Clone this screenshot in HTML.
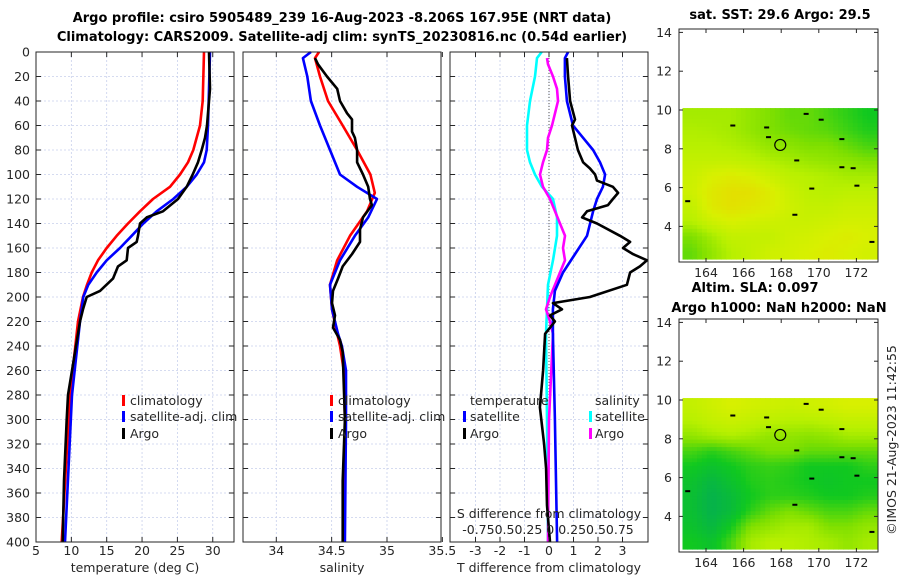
<!DOCTYPE html>
<html><head><meta charset="utf-8"><style>
body{margin:0;background:#fff;}
svg{display:block;font-family:"DejaVu Sans","Liberation Sans",sans-serif;}
.t{font-size:12.5px;fill:#262626;}
.ti{font-size:13px;font-weight:bold;fill:#000;}
</style></head><body>
<svg id="fig" width="900" height="580" viewBox="0 0 900 580">
<g id="grid"></g>
<g id="lines"></g>
<g id="maps"></g>
<g id="axes"></g>
<text class="ti" x="342" y="22" text-anchor="middle">Argo profile: csiro 5905489_239 16-Aug-2023 -8.206S 167.95E (NRT data)</text>
<text class="ti" x="342" y="41" text-anchor="middle">Climatology: CARS2009. Satellite-adj clim: synTS_20230816.nc (0.54d earlier)</text>
<text class="t" x="135" y="572" text-anchor="middle">temperature (deg C)</text>
<text class="t" x="342" y="572" text-anchor="middle">salinity</text>
<text class="t" x="549" y="572" text-anchor="middle">T difference from climatology</text>
<text class="t" x="549" y="518" text-anchor="middle">S difference from climatology</text>
<text class="t" x="548" y="534" text-anchor="middle">-0.750.50.25 0 0.250.50.75</text>
<g>
<rect x="122" y="395" width="3" height="11" fill="#f00"/><text class="t" x="130" y="405">climatology</text>
<rect x="122" y="411" width="3" height="11" fill="#00f"/><text class="t" x="130" y="421">satellite-adj. clim</text>
<rect x="122" y="428" width="3" height="11" fill="#000"/><text class="t" x="130" y="438">Argo</text>
</g>
<g>
<rect x="330" y="395" width="3" height="11" fill="#f00"/><text class="t" x="338" y="405">climatology</text>
<rect x="330" y="411" width="3" height="11" fill="#00f"/><text class="t" x="338" y="421">satellite-adj. clim</text>
<rect x="330" y="428" width="3" height="11" fill="#000"/><text class="t" x="338" y="438">Argo</text>
</g>
<g>
<text class="t" x="470" y="405">temperature</text>
<rect x="463" y="411" width="3" height="11" fill="#00f"/><text class="t" x="470" y="421">satellite</text>
<rect x="463" y="428" width="3" height="11" fill="#000"/><text class="t" x="470" y="438">Argo</text>
<text class="t" x="595" y="405">salinity</text>
<rect x="589" y="411" width="3" height="11" fill="#0ff"/><text class="t" x="595" y="421">satellite</text>
<rect x="589" y="428" width="3" height="11" fill="#f0f"/><text class="t" x="595" y="438">Argo</text>
</g>
<text class="ti" x="780" y="19" text-anchor="middle">sat. SST: 29.6 Argo: 29.5</text>
<text class="ti" x="755" y="292" text-anchor="middle">Altim. SLA: 0.097</text>
<text class="ti" x="779" y="312" text-anchor="middle">Argo h1000: NaN h2000: NaN</text>
<text class="t" transform="translate(896,440) rotate(-90)" text-anchor="middle">©IMOS 21-Aug-2023 11:42:55</text>
</svg>
<script>
// ---- Panel 1: temperature ----
const tClimDepth=[0,40,60,80,90,100,110,120,130,140,150,160,170,180,190,200,220,280,400];
const tClim=[28.76,28.58,28.2,27.25,26.5,25.37,23.95,21.55,19.71,18.01,16.41,15.0,13.77,12.88,12.21,11.65,10.94,9.81,8.64];
const tSatDepth=[0,60,80,90,100,110,120,130,140,150,160,170,180,190,200,220,280,400];
const tSat=[29.61,29.33,29.14,28.76,27.73,26.32,24.42,22.07,20.18,18.54,16.88,15.0,13.59,12.4,11.69,11.22,10.09,9.1];
const tArgoDepth=[0,30,60,70,80,90,100,110,120,130,135,140,150,155,160,170,175,185,195,200,210,220,280,300,350,400];
const tArgo=[29.47,29.61,29.19,28.9,28.44,27.91,27.16,26.32,25.08,22.96,20.66,19.71,19.43,19.24,18.01,17.83,16.6,15.89,14.05,12.17,11.65,11.22,9.53,9.34,8.96,8.78];
// ---- Panel 2: salinity ----
const sClimDepth=[0,5,20,40,60,80,100,115,130,150,170,190,210,230,240,260,300,400];
const sClim=[34.386,34.35,34.395,34.467,34.6,34.73,34.85,34.89,34.82,34.666,34.55,34.485,34.503,34.55,34.575,34.61,34.62,34.61];
const sSatDepth=[0,5,20,40,60,80,100,110,120,135,150,170,190,210,230,240,260,300,400];
const sSat=[34.313,34.24,34.28,34.313,34.395,34.485,34.575,34.73,34.91,34.83,34.71,34.575,34.485,34.503,34.557,34.593,34.63,34.63,34.62];
const sArgoDepth=[5,10,20,30,40,50,55,65,70,80,90,100,110,120,125,135,145,155,165,175,185,195,205,215,225,235,245,300,350,400];
const sArgo=[34.35,34.377,34.458,34.55,34.575,34.64,34.684,34.684,34.71,34.73,34.73,34.783,34.83,34.846,34.864,34.783,34.756,34.756,34.684,34.6,34.557,34.512,34.503,34.53,34.512,34.575,34.6,34.62,34.6,34.6];
// ---- Panel 3: differences ----
const dTSatDepth=[0,5,20,40,60,70,80,90,100,110,120,130,150,165,180,195,210,230,300,400];
const dTSat=[0.78,0.65,0.65,0.73,0.98,1.39,1.8,2.08,2.29,2.2,1.96,1.8,1.55,1.06,0.57,0.24,0.16,0.16,0.24,0.33];
const dTArgoDepth=[5,20,40,55,60,70,80,90,95,100,105,110,115,120,125,130,135,140,150,155,160,165,170,175,180,190,200,205,210,215,220,230,260,290,320,340,370,400];
const dTArgo=[0.73,0.78,0.86,1.06,0.94,1.06,1.18,1.39,1.67,1.88,1.96,2.61,2.82,2.61,2.41,1.55,1.35,1.96,2.9,3.31,3.02,3.43,4.0,3.71,3.31,3.18,1.67,0.16,0.53,0.04,0.24,-0.16,-0.24,-0.37,-0.2,-0.12,-0.08,0.04];
const dSSatDepth=[0,5,20,40,60,80,90,100,110,120,135,150,170,190,210,230,300,400];
const dSSat=[-0.076,-0.125,-0.146,-0.198,-0.229,-0.229,-0.198,-0.146,-0.073,0.042,0.083,0.083,0.042,-0.01,-0.021,-0.031,-0.021,-0.01];
const dSArgoDepth=[5,10,20,30,40,50,60,70,80,90,100,110,120,130,140,150,160,170,180,190,200,210,220,230,300,400];
const dSArgo=[-0.021,-0.01,0.042,0.083,0.094,0.063,0.031,-0.01,-0.021,-0.063,-0.094,-0.063,0.01,0.063,0.115,0.167,0.146,0.167,0.115,0.063,0.01,-0.031,0.01,0.042,0,-0.01];
// ---- Maps (rows from north ~10N to south ~2.3N, cols 162.7E..173.1E) ----
const sstGrid=[
[0.55,0.55,0.55,0.5,0.45,0.4,0.4,0.35,0.3,0.25],
[0.58,0.57,0.55,0.5,0.45,0.42,0.4,0.38,0.33,0.28],
[0.6,0.6,0.58,0.55,0.5,0.48,0.45,0.45,0.4,0.35],
[0.65,0.65,0.65,0.62,0.58,0.55,0.52,0.5,0.48,0.45],
[0.68,0.75,0.78,0.75,0.68,0.62,0.6,0.58,0.55,0.55],
[0.7,0.8,0.85,0.85,0.78,0.68,0.62,0.6,0.62,0.62],
[0.65,0.8,0.85,0.82,0.78,0.7,0.65,0.65,0.68,0.68],
[0.6,0.7,0.75,0.72,0.7,0.68,0.68,0.7,0.72,0.72],
[0.45,0.55,0.65,0.65,0.65,0.7,0.72,0.75,0.78,0.75],
[0.4,0.5,0.6,0.65,0.7,0.72,0.75,0.78,0.75,0.72]];
const slaGrid=[
[0.65,0.7,0.75,0.72,0.7,0.68,0.7,0.72,0.75,0.75],
[0.6,0.65,0.68,0.65,0.62,0.6,0.6,0.62,0.65,0.65],
[0.5,0.55,0.58,0.55,0.5,0.5,0.48,0.5,0.55,0.55],
[0.35,0.3,0.35,0.4,0.45,0.45,0.4,0.4,0.4,0.4],
[0.25,0.2,0.25,0.3,0.32,0.3,0.25,0.25,0.25,0.3],
[0.2,0.12,0.2,0.28,0.3,0.28,0.25,0.22,0.25,0.25],
[0.18,0.08,0.15,0.25,0.3,0.3,0.28,0.25,0.25,0.28],
[0.18,0.08,0.15,0.3,0.4,0.45,0.4,0.35,0.35,0.4],
[0.2,0.12,0.25,0.45,0.5,0.55,0.55,0.45,0.45,0.5],
[0.25,0.2,0.35,0.55,0.6,0.6,0.58,0.55,0.5,0.55]];
const depthTicks=[0,20,40,60,80,100,120,140,160,180,200,220,240,260,280,300,320,340,360,380,400];
const tTicks=[5,10,15,20,25,30];
const sTicks=[34,34.5,35,35.5];
const dTicks=[-3,-2,-1,0,1,2,3];
const latTicks=[14,12,10,8,6,4];
const lonTicks=[164,166,168,170,172];
const argoLon=167.95, argoLat=8.2;

const NS='http://www.w3.org/2000/svg';
function mk(tag,attrs,parent){const e=document.createElementNS(NS,tag);for(const k in attrs)e.setAttribute(k,attrs[k]);parent.appendChild(e);return e;}
const G=document.getElementById('grid'),L=document.getElementById('lines'),A=document.getElementById('axes'),M=document.getElementById('maps');
const top0=52,bot0=542;
const yD=d=>top0+d*(bot0-top0)/400;
const panels=[
 {x0:36,x1:234,xs:v=>36+(v-5)*7.07,ticks:tTicks,name:'temperature-panel'},
 {x0:243,x1:441,xs:v=>276.3+(v-34)*110.7,ticks:sTicks,name:'salinity-panel'},
 {x0:450,x1:648,xs:v=>549+v*24.5,ticks:dTicks,name:'difference-panel'}];
const xsS=v=>549+v*96;

panels.forEach((p,pi)=>{
  depthTicks.forEach(d=>{
    const l=mk('line',{x1:p.x0,x2:p.x1,y1:yD(d),y2:yD(d),stroke:'#c8d0ec','stroke-width':0.8,'stroke-dasharray':'2,2'},G);
    
    
    mk('line',{x1:p.x0,x2:p.x0+5,y1:yD(d),y2:yD(d),stroke:'#262626'},A);
    mk('line',{x1:p.x1-5,x2:p.x1,y1:yD(d),y2:yD(d),stroke:'#262626'},A);
    if(pi===0){const t=mk('text',{x:30,y:yD(d)+4.5,'text-anchor':'end',class:'t'},A);t.textContent=d;
      
      }
  });
  p.ticks.forEach(v=>{
    const x=p.xs(v);
    if(x>p.x0+1&&x<p.x1-1){
      const l=mk('line',{x1:x,x2:x,y1:top0,y2:bot0,stroke:'#c8d0ec','stroke-width':0.8,'stroke-dasharray':'2,2'},G);
      
      
    }
    mk('line',{x1:x,x2:x,y1:bot0,y2:bot0-5,stroke:'#262626'},A);
    mk('line',{x1:x,x2:x,y1:top0,y2:top0+5,stroke:'#262626'},A);
    const t=mk('text',{x:x,y:555,'text-anchor':'middle',class:'t'},A);t.textContent=v;
    
    
  });
  const b=mk('rect',{x:p.x0,y:top0,width:p.x1-p.x0,height:bot0-top0,fill:'none',stroke:'#262626','stroke-width':1},A);
  
  
});
const zl=mk('line',{x1:549,x2:549,y1:top0,y2:bot0,stroke:'#555','stroke-dasharray':'1,2'},G);



function line(depths,vals,xs,color,name){
  const pts=depths.map((d,i)=>xs(vals[i]).toFixed(1)+','+yD(d).toFixed(1)).join(' ');
  const e=mk('polyline',{points:pts,fill:'none',stroke:color,'stroke-width':2.6,'stroke-linejoin':'round'},L);
  
  
}
const P=panels;
line(tClimDepth,tClim,P[0].xs,'#f00','temperature-climatology-line');
line(tSatDepth,tSat,P[0].xs,'#00f','temperature-satellite-line');
line(tArgoDepth,tArgo,P[0].xs,'#000','temperature-argo-line');
line(sClimDepth,sClim,P[1].xs,'#f00','salinity-climatology-line');
line(sSatDepth,sSat,P[1].xs,'#00f','salinity-satellite-line');
line(sArgoDepth,sArgo,P[1].xs,'#000','salinity-argo-line');
line(dSSatDepth,dSSat,xsS,'#0ff','s-diff-satellite-line');
line(dSArgoDepth,dSArgo,xsS,'#f0f','s-diff-argo-line');
line(dTSatDepth,dTSat,P[2].xs,'#00f','t-diff-satellite-line');
line(dTArgoDepth,dTArgo,P[2].xs,'#000','t-diff-argo-line');

// maps
const stops=[[0,[0,168,96]],[0.25,[16,200,32]],[0.45,[128,224,0]],[0.6,[184,240,0]],[0.75,[216,240,0]],[0.9,[232,216,0]],[1,[240,192,0]]];
function cmap(v){for(let i=1;i<stops.length;i++){if(v<=stops[i][0]){const a=stops[i-1],b=stops[i],f=(v-a[0])/(b[0]-a[0]);return 'rgb('+a[1].map((c,k)=>Math.round(c+(b[1][k]-c)*f)).join(',')+')';}}return 'rgb(240,192,0)';}
function drawMap(grid,oy,name){
  const lonX=lon=>706+(lon-164)*18.8;
  const latY=lat=>oy+110-(lat-10)*19.4;
  const lon0=162.75,lon1=173.1,lat0=10.1,lat1=2.32;
  const rows=grid.length,cols=grid[0].length;
  const g=mk('g',{},M);
  
  
  const sub=4;
  for(let r=0;r<rows*sub;r++)for(let c=0;c<cols*sub;c++){
    const fr=Math.min(rows-1,Math.max(0,(r+0.5)/sub-0.5)),fc=Math.min(cols-1,Math.max(0,(c+0.5)/sub-0.5));
    const r0=Math.floor(fr),c0=Math.floor(fc),r1=Math.min(rows-1,r0+1),c1=Math.min(cols-1,c0+1),a=fr-r0,b=fc-c0;
    const v=grid[r0][c0]*(1-a)*(1-b)+grid[r0][c1]*(1-a)*b+grid[r1][c0]*a*(1-b)+grid[r1][c1]*a*b;
    const x0=lonX(lon0+(lon1-lon0)*c/(cols*sub)),x1=lonX(lon0+(lon1-lon0)*(c+1)/(cols*sub));
    const y0=latY(lat0+(lat1-lat0)*r/(rows*sub)),y1=latY(lat0+(lat1-lat0)*(r+1)/(rows*sub));
    mk('rect',{x:x0.toFixed(2),y:y0.toFixed(2),width:(x1-x0+0.6).toFixed(2),height:(y1-y0+0.6).toFixed(2),fill:cmap(v)},g);
  }
  // islands/coast marks
  [[165.4,9.2],[167.2,9.1],[167.3,8.6],[168.8,7.4],[169.6,5.95],[171.2,7.05],[171.8,7.0],[172,6.1],[170.1,9.5],[171.2,8.5],[172.8,3.2],[163,5.3],[168.7,4.6],[169.3,9.8]].forEach(p=>{
    mk('rect',{x:lonX(p[0])-2,y:latY(p[1])-1,width:5,height:2,fill:'#000'},g);
  });
  const c=mk('circle',{cx:lonX(argoLon),cy:latY(argoLat),r:5.5,fill:'none',stroke:'#000','stroke-width':1.2},g);
  
  
  const bx0=679,bx1=878,by0=oy+29,by1=oy+262;
  const box=mk('rect',{x:bx0,y:by0,width:bx1-bx0,height:by1-by0,fill:'none',stroke:'#262626'},g);
  latTicks.forEach(l=>{const y=latY(l);mk('line',{x1:bx0,x2:bx0+4,y1:y,y2:y,stroke:'#262626'},g);mk('line',{x1:bx1-4,x2:bx1,y1:y,y2:y,stroke:'#262626'},g);
    const t=mk('text',{x:672,y:y+4.5,'text-anchor':'end',class:'t'},g);t.textContent=l;
    
    });
  lonTicks.forEach(l=>{const x=lonX(l);mk('line',{x1:x,x2:x,y1:by1,y2:by1-4,stroke:'#262626'},g);mk('line',{x1:x,x2:x,y1:by0,y2:by0+4,stroke:'#262626'},g);
    const t=mk('text',{x:x,y:by1+15,'text-anchor':'middle',class:'t'},g);t.textContent=l;
    
    });
}
drawMap(sstGrid,0,'sst-map');
drawMap(slaGrid,290,'sla-map');
</script>
</body></html>
